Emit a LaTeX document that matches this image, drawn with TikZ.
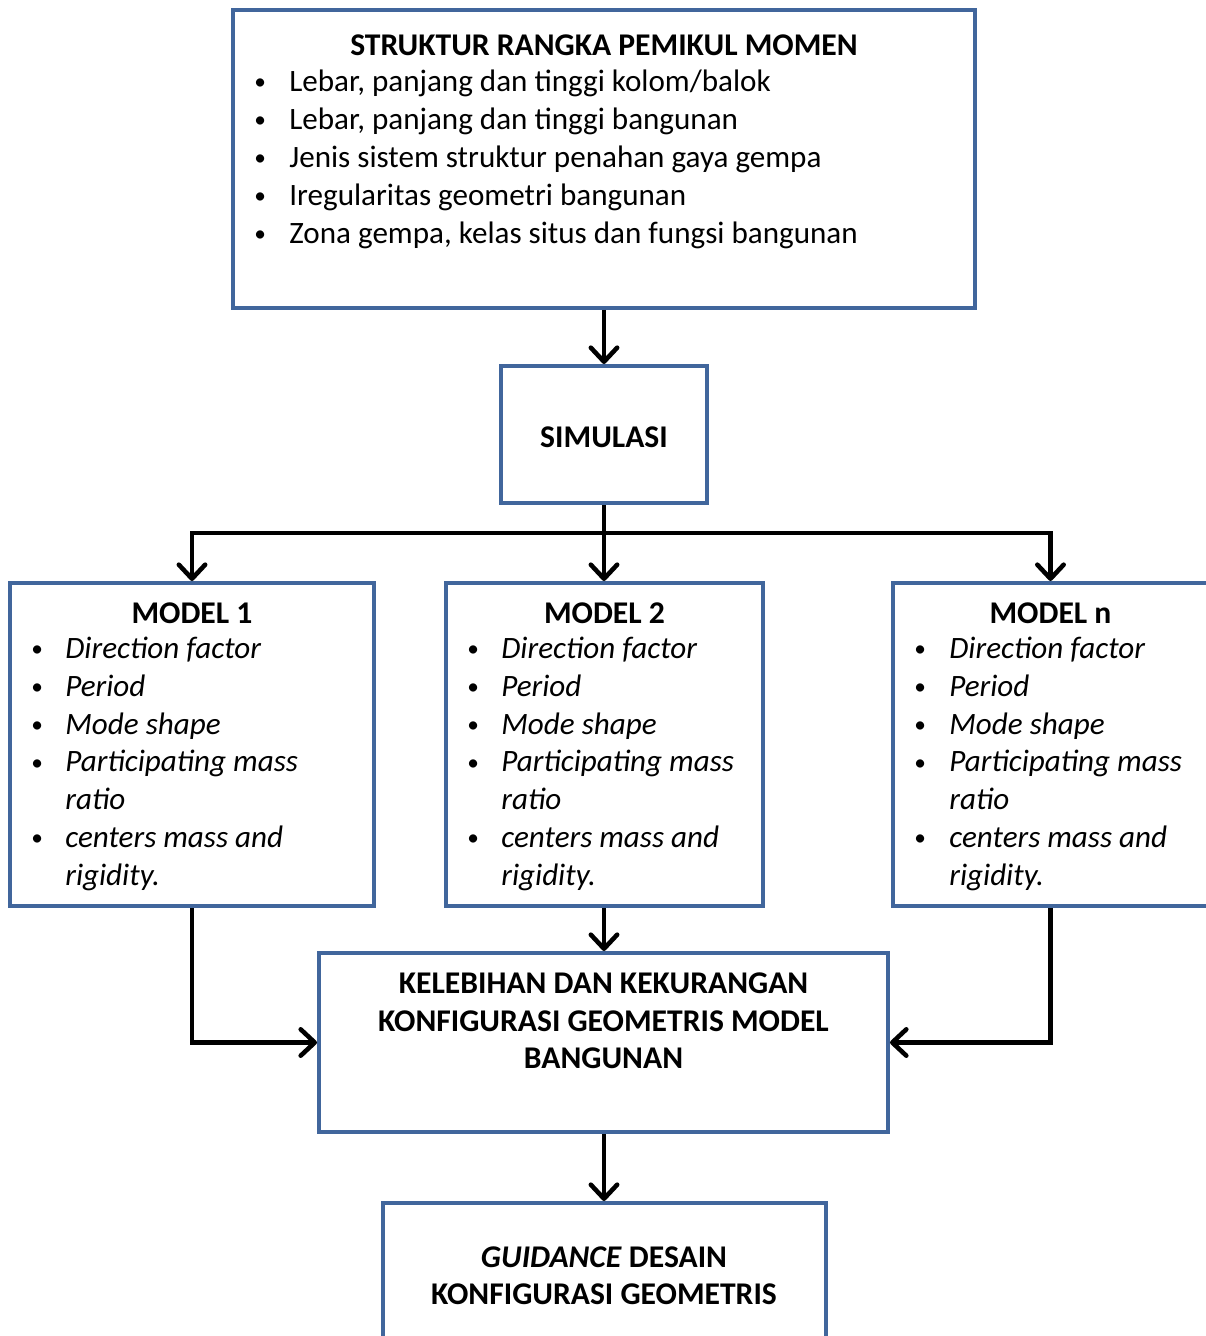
\documentclass[tikz,border=0pt]{standalone}
\usepackage{fontspec}
\setmainfont{Carlito}
\usetikzlibrary{positioning,calc,arrows.meta}
\definecolor{biru}{HTML}{41669C}
\newcommand\titik{\raisebox{1pt}{\scalebox{0.75}{\textbullet}}}
\tikzset{
  kotak/.style={draw=biru, line width=2.3pt, inner sep=0pt, rectangle},
  judul/.style={font=\fontsize{18pt}{21.3pt}\selectfont\bfseries, align=center, inner sep=0pt},
  isi/.style={font=\fontsize{17.7pt}{21.5pt}\selectfont, anchor=west, inner sep=0pt, text height=12pt, text depth=3.5pt},
  panah/.style={line width=2.6pt, -{Straight Barb[length=8pt,width=15pt,round]}},
  garis/.style={line width=2.6pt}
}
\begin{document}
\begin{tikzpicture}[x=0.02cm,y=-0.02cm]
\clip (0,0) rectangle (1206,1336);
\useasboundingbox (0,0) rectangle (1206,1336);
% kotak-kotak
\node (atas) at (604,159) [kotak, minimum width=14.84cm, minimum height=5.96cm] {};
\node (sim) at (604,434.5) [kotak, minimum width=4.12cm, minimum height=2.74cm] {};
\node (m1) at (192,744.5) [kotak, minimum width=7.28cm, minimum height=6.46cm] {};
\node (m2) at (604.5,744.5) [kotak, minimum width=6.34cm, minimum height=6.46cm] {};
\node (mn) at (1050.5,744.5) [kotak, minimum width=6.30cm, minimum height=6.46cm] {};
\node (kel) at (603.5,1042.5) [kotak, minimum width=11.38cm, minimum height=3.58cm] {};
\node (gui) at (604.5,1274) [kotak, minimum width=8.86cm, minimum height=2.84cm] {};
% teks
\node (ja) at (604,45) [judul] {STRUKTUR RANGKA PEMIKUL MOMEN};
\foreach \t [count=\i from 0] in {{Lebar, panjang dan tinggi kolom/balok},
    {Lebar, panjang dan tinggi bangunan},
    {Jenis sistem struktur penahan gaya gempa},
    {Iregularitas geometri bangunan},
    {Zona gempa, kelas situs dan fungsi bangunan}}{
  \node (ba\i) at (254,84+38*\i) [isi] {\titik};
  \node (ta\i) at (289,84+38*\i) [isi] {\t};
}
\node (js) at (604,437) [judul] {SIMULASI};
\foreach \bx/\tx/\cx/\nm in {31/65/192/1, 467/501/604.5/2, 914/949/1050.5/n}{
  \node (jm\nm) at (\cx,613) [judul] {MODEL \nm};
  \foreach \b/\t [count=\i from 0] in {1/Direction factor, 1/Period, 1/Mode shape,
      1/Participating mass, 0/ratio, 1/centers mass and, 0/rigidity.}{
    \ifnum\b=1 \node (bm\nm\i) at (\bx,651+37.8*\i) [isi] {\titik};\fi
    \node (tm\nm\i) at (\tx,651+37.8*\i) [isi] {\itshape\t};
  }
}
\node (jk) at (603.5,1021) [judul] {KELEBIHAN DAN KEKURANGAN\\KONFIGURASI GEOMETRIS MODEL\\BANGUNAN};
\node (jg) at (604,1276) [judul] {\textit{GUIDANCE} DESAIN\\KONFIGURASI GEOMETRIS};
% panah
\coordinate (cab) at (604,533);
\draw[panah] (atas) -- (sim);
\draw[garis] (sim) -- (cab);
\draw[panah] (cab) -| (m1.north);
\draw[panah] (cab) -| (mn.north);
\draw[panah] (cab) -- (m2.north -| cab);
\draw[panah] (m1.south) |- (kel.west);
\draw[panah] (mn.south) |- (kel.east);
\draw[panah] (m2.south -| cab) -- (kel.north -| cab);
\draw[panah] (kel.south -| cab) -- (gui.north -| cab);
\end{tikzpicture}
\end{document}
